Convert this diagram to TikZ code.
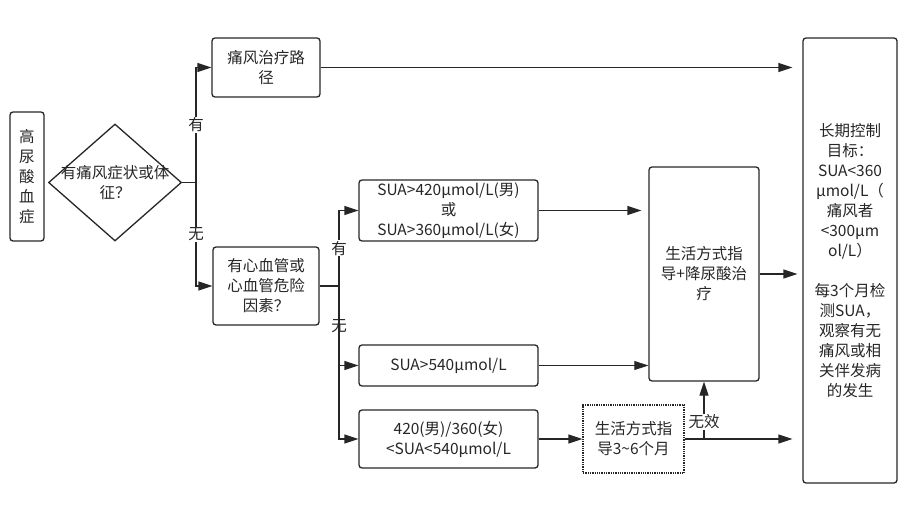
\documentclass[tikz,border=0pt]{standalone}
\usepackage{fontspec}
\setmainfont{Noto Sans CJK SC}
\usetikzlibrary{arrows.meta, shapes.geometric}

\begin{document}
\begin{tikzpicture}[x=1pt, y=-1pt, font=\fontsize{15.5}{20}\selectfont, line width=1.3pt, color=black!85,
box/.style={draw, rounded corners=3pt, align=center, inner sep=2pt},
arr/.style={-{Triangle[length=14pt, width=9pt]}},
lbl/.style={fill=white, inner sep=1pt}]
\useasboundingbox (0,0) rectangle (911,506);
\node[box, minimum width=34pt, minimum height=129pt](hua) at (27,176.5){高\\尿\\酸\\血\\症};
\node[draw, diamond, minimum width=133pt, minimum height=117pt, inner sep=0pt](q) at (115,182.5){};
\node[align=center](qt) at (q.center){有痛风症状或体\\征？};
\node[box, minimum width=108pt, minimum height=59pt](tong) at (266,67.5){痛风治疗路\\径};
\node[box, minimum width=106pt, minimum height=78pt](xin) at (266,286){有心血管或\\心血管危险\\因素？};
\node[box, minimum width=179pt, minimum height=61pt](sua1) at (448.5,210.5){SUA>420μmol/L(男)\\或\\SUA>360μmol/L(女)};
\node[box, minimum width=179pt, minimum height=41pt](sua2) at (448.5,365.5){SUA>540μmol/L};
\node[box, minimum width=179pt, minimum height=58pt](sua3) at (448.5,439){420(男)/360(女)\\<SUA<540μmol/L};
\node[box, densely dotted, rounded corners=0pt, minimum width=101pt, minimum height=68pt](diet) at (633.5,439){生活方式指\\导3\textasciitilde6个月};
\node[box, minimum width=110pt, minimum height=214pt](life) at (704,274){生活方式指\\导+降尿酸治\\疗};
\node[box, minimum width=94pt, minimum height=445pt](goal) at (850,260.5){长期控制\\目标：\\SUA<360\\μmol/L（\\痛风者\\<300μm\\ol/L）\\[20pt]每3个月检\\测SUA，\\观察有无\\痛风或相\\关伴发病\\的发生};
\coordinate (j1) at (196,182.5);
\coordinate (j2) at (339,286);
\coordinate (j3) at (704,439);
\draw (q.east) -- (j1);
\draw[arr] (j1) |- (tong.west) node[lbl, pos=.25]{有};
\draw[arr] (j1) |- (xin.west) node[lbl, pos=.25]{无};
\draw (xin.east) -- (j2);
\draw[arr] (j2) |- (sua1.west) node[lbl, pos=.25]{有};
\draw[arr] (j2) |- (sua2.west) node[lbl, pos=.25]{无};
\draw[arr] (j2) |- (sua3.west);
\draw[arr, shorten >=10pt] (tong.east) -- (tong.east -| goal.west);
\draw[arr, shorten >=7pt] (sua1.east) -- (sua1.east -| life.west);
\draw[arr, line width=.8pt] (sua2.east) -- (sua2.east -| life.west);
\draw[arr] (sua3.east) -- (diet.west);
\draw[arr, shorten >=10pt] (diet.east) -- (diet.east -| goal.west);
\draw[arr] (j3) -- (life.south) node[lbl, pos=.3]{无效};
\draw[arr, shorten >=5pt] (life.east) -- (life.east -| goal.west);
\end{tikzpicture}
\end{document}
